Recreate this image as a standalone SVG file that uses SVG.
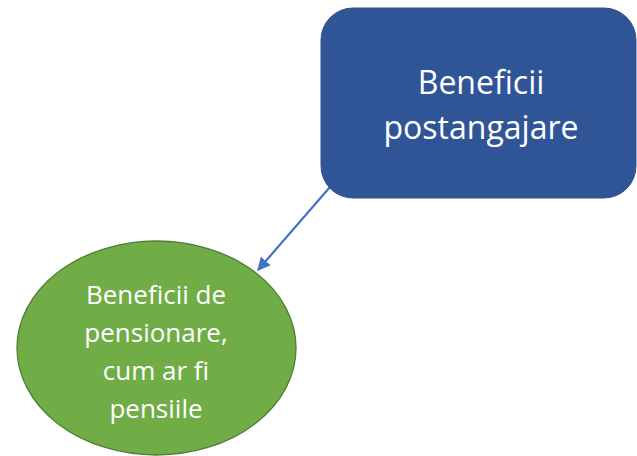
<svg xmlns="http://www.w3.org/2000/svg" width="637" height="456" viewBox="0 0 637 456">
<style>
.t{font-family:"Open Sans","Liberation Sans",sans-serif;fill:#fff;text-anchor:middle}
</style>
<defs>
<marker id="ah" viewBox="0 0 10 10" refX="9" refY="5" markerWidth="6" markerHeight="6" orient="auto" markerUnits="strokeWidth">
<path d="M0,0 L10,5 L0,10 z" fill="#4472C4"/>
</marker>
</defs>
<rect x="0" y="0" width="637" height="456" fill="#fff"/>
<g id="connectors">
<line x1="330" y1="187" x2="258" y2="270" stroke="#4472C4" stroke-width="2.2" marker-end="url(#ah)"/>
</g>
<g id="node-post">
<rect x="321" y="8" width="315" height="190" rx="32" fill="#2F5597" stroke="#2F528F" stroke-width="1"/>
<text class="t" font-size="32" x="481" y="94">Beneficii</text>
<text class="t" font-size="32" x="481" y="139">postangajare</text>
</g>
<g id="node-pens">
<ellipse cx="156.5" cy="348" rx="139.5" ry="107" fill="#70AD47" stroke="#507E32" stroke-width="1.3"/>
<text class="t" font-size="26" x="156" y="304">Beneficii de</text>
<text class="t" font-size="26" x="156" y="342">pensionare,</text>
<text class="t" font-size="26" x="156" y="380">cum ar fi</text>
<text class="t" font-size="26" x="156" y="418">pensiile</text>
</g>
</svg>
